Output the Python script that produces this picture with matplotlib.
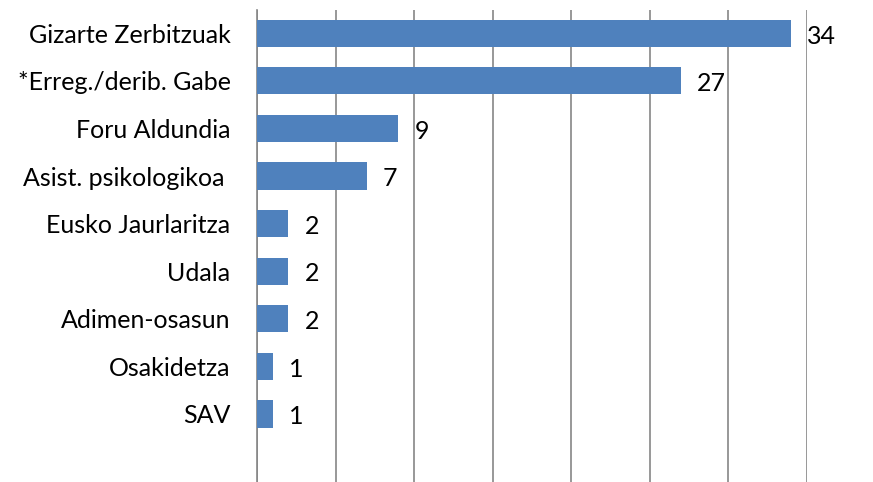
import matplotlib.pyplot as plt

# Data
categories = ["Gizarte Zerbitzuak", "*Erreg./derib. Gabe", "Foru Aldundia",
              "Asist. psikologikoa ", "Eusko Jaurlaritza", "Udala",
              "Adimen-osasun", "Osakidetza", "SAV"]
values = [34, 27, 9, 7, 2, 2, 2, 1, 1]

plt.rcParams['font.family'] = ['Lato', 'DejaVu Sans']

fig = plt.figure(figsize=(8.73, 4.82), dpi=100)
ax = fig.add_axes([257 / 873, 0.0, 550 / 873, 472.5 / 482])

pos = list(range(len(categories)))
ax.barh(pos, values, height=0.57, color='#4F81BD', zorder=3)

for p, v in zip(pos, values):
    ax.annotate(str(v), xy=(v, p), xytext=(11.5, -2), textcoords='offset points',
                va='center', ha='left', fontsize=18, color='black')

ax.set_xlim(0, 35)
ax.set_ylim(9.43, -0.5)
ax.set_xticks(range(0, 36, 5))
ax.set_xticklabels([])
ax.set_yticks(pos)
ax.set_yticklabels(categories, fontsize=18)
ax.tick_params(axis='both', length=0)
ax.tick_params(axis='y', pad=19)
ax.grid(axis='x', color='#868686', linewidth=1.2, zorder=0)

for side in ['top', 'right', 'bottom']:
    ax.spines[side].set_visible(False)
ax.spines['left'].set_color('#868686')
ax.spines['left'].set_linewidth(1.2)

fig.savefig('out.png', dpi=100)
